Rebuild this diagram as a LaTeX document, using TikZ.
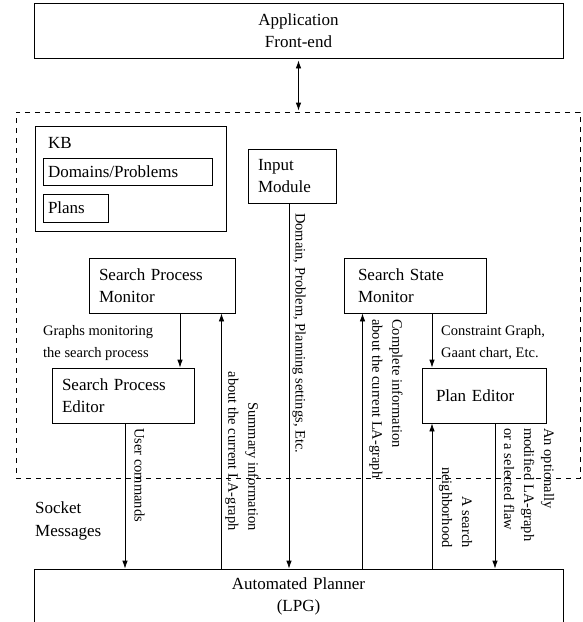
\documentclass[tikz,border=0pt]{standalone}
\usepackage{fontspec}
\setmainfont{Liberation Serif}
\usetikzlibrary{arrows.meta}
\tikzset{
  big/.style={font=\fontsize{17}{22.5}\selectfont},
  small/.style={font=\fontsize{14.5}{22}\selectfont},
  rot/.style={font=\fontsize{14.5}{20}\selectfont, rotate=-90, inner sep=0pt},
  box/.style={draw, line width=0.8pt, big, align=left, inner xsep=10pt, inner ysep=0pt},
  arr/.style={line width=0.8pt, -{Latex[length=8pt,width=5.5pt]}},
  lbl/.style={small, align=left, inner sep=0pt, anchor=west}
}
\begin{document}
\begin{tikzpicture}[x=1pt,y=-1pt]
\useasboundingbox (0,0) rectangle (582,622);
% frames
\node[box, align=center, text width=509pt, minimum height=55pt] (app) at (298.5,30.5) {Application\\Front-end};
\node[draw, dashed, dash pattern=on 5pt off 5pt, line width=0.8pt, minimum width=564pt, minimum height=366pt, inner sep=0pt] (sys) at (298,295) {};
\node[box, align=center, text width=509pt, minimum height=55pt] (lpg) at (298.5,596.5) {Automated Planner\\(LPG)};
% KB
\node[draw, line width=0.8pt, minimum width=191pt, minimum height=105pt, inner sep=0pt] (kb) at (130.5,178.5) {};
\node[big, inner sep=0pt, anchor=west] (kbl) at (48,143) {KB};
\node[box, inner xsep=5pt, text width=159pt, minimum height=27pt] (dom) at (127.5,171.5) {Domains/Problems};
\node[box, inner xsep=5pt, text width=55pt, minimum height=28pt] (plans) at (75.5,208) {Plans};
% modules
\node[box, text width=68pt, minimum height=54pt] (inp) at (292,176) {Input\\Module};
\node[box, text width=126pt, minimum height=55pt] (spm) at (162,285.5) {Search Process\\Monitor};
\node[box, inner xsep=14pt, text width=114pt, minimum height=55pt] (ssm) at (415,285.5) {Search State\\Monitor};
\node[box, text width=122pt, minimum height=55pt] (spe) at (123,395.5) {Search Process\\Editor};
\node[box, inner xsep=14pt, text width=96pt, minimum height=55pt] (pe) at (484,395.5) {Plan Editor};
% connectors
\draw[line width=0.8pt, {Latex[length=8pt,width=5.5pt]}-{Latex[length=8pt,width=5.5pt]}, shorten <=2pt, shorten >=1pt] (app.south) -- (app.south |- sys.north);
\draw[arr] ([xshift=18pt]spm.south) -- ([xshift=18pt]spm.south |- spe.north);
\draw[arr] ([xshift=59.5pt]spm.south |- lpg.north) -- ([xshift=59.5pt]spm.south);
\draw[arr] ([xshift=-3pt]inp.south) -- ([xshift=-3pt]inp.south |- lpg.north);
\draw[arr] ([xshift=-52.5pt]ssm.south |- lpg.north) -- ([xshift=-52.5pt]ssm.south);
\draw[arr] ([xshift=17pt]ssm.south) -- ([xshift=17pt]ssm.south |- pe.north);
\draw[arr] ([xshift=-52pt]pe.south |- lpg.north) -- ([xshift=-52pt]pe.south);
\draw[arr] ([xshift=11pt]pe.south) -- ([xshift=11pt]pe.south |- lpg.north);
\draw[arr] ([xshift=2pt]spe.south) -- ([xshift=2pt]spe.south |- lpg.north);
% labels
\node[lbl] (l1) at (43,343) {Graphs monitoring\\the search process};
\node[lbl] (l2) at (441,343) {Constraint Graph,\\Gaant chart, Etc.};
\node[big, align=left, inner sep=0pt, anchor=west] (sock) at (35,521) {Socket\\Messages};
\node[rot, anchor=west] (r1) at (299,213) {Domain, Problem, Planning settings, Etc.};
\node[rot, anchor=west] (r2) at (139.5,428) {User commands};
\node[rot, anchor=east, align=right] (r3) at (242,531) {Summary information\\about the current LA-graph};
\node[rot, anchor=west, align=left] (r4) at (386,319) {Complete information\\about the current LA-graph};
\node[rot, anchor=east, align=right] (r5) at (455.5,548) {A search\\neighborhood};
\node[rot, anchor=west, align=left] (r6) at (529,428) {An optionally\\modified LA-graph\\or a selected flaw};
\end{tikzpicture}
\end{document}
